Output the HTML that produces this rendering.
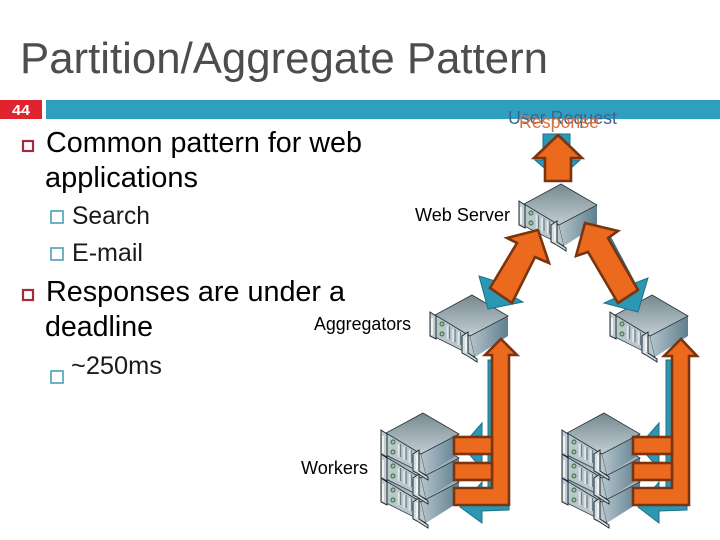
<!DOCTYPE html>
<html><head><meta charset="utf-8"><style>
html,body{margin:0;padding:0;background:#fff}
svg{display:block}
text{font-family:"Liberation Sans",sans-serif}
</style></head><body>
<svg width="720" height="540" viewBox="0 0 720 540" xmlns="http://www.w3.org/2000/svg">
<defs>
<linearGradient id="gt" x1="0" y1="0" x2="0" y2="1"><stop offset="0" stop-color="#76898f"/><stop offset="1" stop-color="#c2ced3"/></linearGradient>
<linearGradient id="gr" x1="0" y1="0" x2="1" y2="0"><stop offset="0" stop-color="#b4c4cb"/><stop offset="1" stop-color="#5f7f8f"/></linearGradient>
<g id="srv">
<polygon points="-37,20 -2,41 3,62 -37,42" fill="#b9c6cc" stroke="#26343c" stroke-width=".7"/>
<polygon points="-2,41 36,21 36,41 3,62" fill="url(#gr)"/>
<polygon points="0,0 36,21 -2,41 -37,20" fill="url(#gt)" stroke="#26343c" stroke-width=".8"/>
<polygon points="-42,17 -36,21 -36,44 -42,41" fill="#c3ced3" stroke="#1e2a31" stroke-width="1"/>
<path d="M-40,23 L-40,40" stroke="#eef2f3" stroke-width="2"/>
<polygon points="-10,41 -4,37 -4,58 5,64 5,67 -6,60 -10,58" fill="#d4dde0" stroke="#1e2a31" stroke-width="1"/>
<path d="M-6,42 V57" stroke="#eef2f3" stroke-width="2"/>
<circle cx="-30" cy="29" r="2" fill="#9fc29d" stroke="#2f6b3b" stroke-width=".9"/>
<circle cx="-30" cy="39" r="2" fill="#9fc29d" stroke="#2f6b3b" stroke-width=".9"/>
<g stroke="#dfe6e9" stroke-width="3.600"><path d="M-23.500,31 V44"/><path d="M-18,34 V47"/><path d="M-12.500,37 V50"/></g>
<g stroke="#6c7f89" stroke-width="1.400"><path d="M-22.500,31 V44"/><path d="M-17,34 V47"/><path d="M-11.500,37 V50"/></g>
</g>
</defs>

<rect width="720" height="540" fill="#fff"/>
<text x="20" y="73" font-size="44" fill="#4d4d4d" textLength="528" lengthAdjust="spacingAndGlyphs">Partition/Aggregate Pattern</text>
<rect x="0" y="100" width="42" height="19" fill="#e0242e"/>
<rect x="46" y="100" width="674" height="19" fill="#2e9fbe"/>
<text x="12" y="115" font-size="15" font-weight="bold" fill="#fff" textLength="18" lengthAdjust="spacingAndGlyphs">44</text>

<g fill="none" stroke-width="2.200">
<rect x="23" y="141" width="10" height="10" stroke="#a8283c"/>
<rect x="23" y="290" width="10" height="10" stroke="#a8283c"/>
<rect x="51" y="211" width="12" height="12" stroke="#4b9fb5" stroke-width="1.600"/>
<rect x="51" y="248" width="12" height="12" stroke="#4b9fb5" stroke-width="1.600"/>
<rect x="51" y="371" width="12" height="12" stroke="#4b9fb5" stroke-width="1.600"/>
</g>

<g fill="#000">
<text x="46" y="152" font-size="28.800" textLength="316" lengthAdjust="spacingAndGlyphs">Common pattern for web</text>
<text x="45" y="187" font-size="28.800" textLength="153" lengthAdjust="spacingAndGlyphs">applications</text>
<text x="72" y="224" font-size="25" fill="#1a1a1a" textLength="78" lengthAdjust="spacingAndGlyphs">Search</text>
<text x="72" y="261" font-size="25" fill="#1a1a1a" textLength="71" lengthAdjust="spacingAndGlyphs">E-mail</text>
<text x="46" y="301" font-size="28.800" textLength="299" lengthAdjust="spacingAndGlyphs">Responses are under a</text>
<text x="45" y="336" font-size="28.800" textLength="108" lengthAdjust="spacingAndGlyphs">deadline</text>
<text x="71" y="374" font-size="25" fill="#1a1a1a" textLength="91" lengthAdjust="spacingAndGlyphs">~250ms</text>
<text x="415" y="221" font-size="18" textLength="95" lengthAdjust="spacingAndGlyphs">Web Server</text>
<text x="314" y="330" font-size="18" textLength="97" lengthAdjust="spacingAndGlyphs">Aggregators</text>
<text x="301" y="474" font-size="18" textLength="67" lengthAdjust="spacingAndGlyphs">Workers</text>
</g>

<!-- servers -->
<use href="#srv" x="561" y="184"/>
<use href="#srv" x="472" y="295"/>
<use href="#srv" x="652" y="295"/>
<use href="#srv" x="423" y="461"/><use href="#srv" x="423" y="437"/><use href="#srv" x="423" y="413"/>
<use href="#srv" x="604" y="461"/><use href="#srv" x="604" y="437"/><use href="#srv" x="604" y="413"/>

<!-- blue arrows -->
<g fill="#2a97b3" stroke="#1f6f88" stroke-width="1">
<polygon points="543,134 570,134 570,160 580,160 558,180 535,160 543,160"/>
<polygon points="488,309 479,276 495,281 516,244 530,250 510,295 523,302"/>
<polygon points="638,312 648,278 635,283 611,238 600,245 622,295 604,303"/>
<rect x="488" y="360" width="21" height="150"/>
<rect x="666" y="360" width="21" height="150"/>
<polygon points="482,423 462,446 482,469"/>
<polygon points="482,482 460,507 482,523 482,511 509,510 509,500 482,500"/>
<polygon points="659,423 639,446 659,469"/>
<polygon points="659,482 638,507 659,523 659,511 687,510 687,500 659,500"/>
</g>

<!-- orange arrows -->
<g fill="#ec6a1e" stroke="#7a3410" stroke-width="2.600" stroke-linejoin="miter">
<polygon points="558,135 582,158 571,158 571,181 545,181 545,158 534,158"/>
<polygon points="538,230 549,263 535,257 512,303 490,288 517,243 507,238"/>
<polygon points="585,223 618,231 608,238 638,290 618,303 588,252 576,256"/>
<polygon points="501,339 517,355 509,355 509,505 454,505 454,488 492,488 492,355 485,355"/>
<rect x="454" y="437" width="38" height="17"/>
<rect x="454" y="463" width="38" height="17"/>
<polygon points="681,339 697,356 689,356 689,505 633,505 633,488 672,488 672,356 664,356"/>
<rect x="633" y="437" width="39" height="17"/>
<rect x="633" y="463" width="39" height="17"/>
</g>

<text x="508" y="124" font-size="18" fill="#3f6390" textLength="109" lengthAdjust="spacingAndGlyphs">User Request</text>
<text x="519" y="128" font-size="18" fill="#d9713f" textLength="80" lengthAdjust="spacingAndGlyphs">Response</text>
</svg>
</body></html>
